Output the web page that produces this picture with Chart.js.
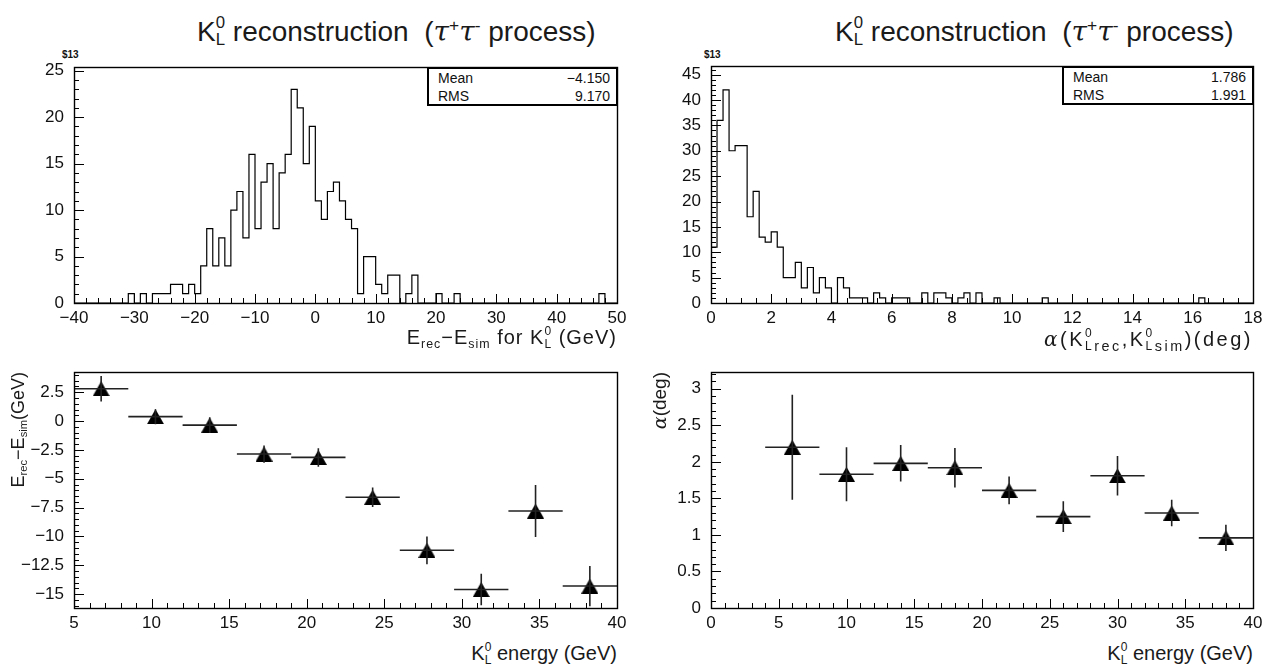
<!DOCTYPE html>
<html>
<head>
<meta charset="utf-8">
<title>KL0 reconstruction</title>
<script src="https://cdn.jsdelivr.net/npm/chart.js@4.4.1/dist/chart.umd.min.js"></script>
<style>
  html, body { margin: 0; padding: 0; background: #fff; }
  body { position: relative; width: 1273px; height: 667px; overflow: hidden;
         font-family: "Liberation Sans", "DejaVu Sans", sans-serif; color: #111; }
  canvas { position: absolute; }
  .title { position: absolute; top: 8px; font-size: 28px; line-height: 34px; white-space: nowrap; color: #1a1a1a; }
  .tag { position: absolute; top: 49px; font-size: 10px; font-weight: bold; }
  .stats { position: absolute; box-sizing: border-box; border: 2px solid #000; font-size: 14px;
           padding: 0 6px 0 9px; background: #fff; }
  .stats div { display: flex; justify-content: space-between; height: 18px; line-height: 18px; }
  .axt { position: absolute; font-size: 20px; line-height: 24px; white-space: nowrap; color: #1a1a1a; }
  .rot { position: absolute; transform-origin: 0 0; transform: rotate(-90deg); text-align: right;
         font-size: 18px; line-height: 22px; white-space: nowrap; color: #1a1a1a; }
  .ss { display: inline-block; vertical-align: -0.28em; font-size: 0.6em; line-height: 1.05; }
  .ss span { display: block; }
  .lo { font-size: 0.62em; vertical-align: -0.3em; }
  .hi { font-size: 0.62em; vertical-align: 0.55em; }
  i { font-family: "DejaVu Serif", serif; }
</style>
</head>
<body>

<div class="title" style="left:197px">K<span class="ss"><span>0</span><span>L</span></span> reconstruction &nbsp;(<i>τ</i><span class="hi">+</span><i>τ</i><span class="hi">-</span> process)</div>
<div class="title" style="left:835px">K<span class="ss"><span>0</span><span>L</span></span> reconstruction &nbsp;(<i>τ</i><span class="hi">+</span><i>τ</i><span class="hi">-</span> process)</div>
<div class="tag" style="left:62px">$13</div>
<div class="tag" style="left:704px">$13</div>

<canvas id="tl"></canvas>
<canvas id="tr"></canvas>
<canvas id="bl"></canvas>
<canvas id="br"></canvas>

<div class="stats" style="left:427px; top:67px; width:191px; height:39px">
  <div><span>Mean</span><span>−4.150</span></div>
  <div><span>RMS</span><span>9.170</span></div>
</div>
<div class="stats" style="left:1062px; top:66px; width:192px; height:39px">
  <div><span>Mean</span><span>1.786</span></div>
  <div><span>RMS</span><span>1.991</span></div>
</div>

<div class="axt" style="right:656px; top:325px; letter-spacing:1px">E<span class="lo">rec</span>−E<span class="lo">sim</span> for K<span class="ss"><span>0</span><span>L</span></span> (GeV)</div>
<div class="axt" style="right:20px; top:327px; letter-spacing:2.5px"><i>α</i>(K<span class="ss"><span>0</span><span>L</span></span><span class="lo" style="font-size:0.72em">rec</span>,K<span class="ss"><span>0</span><span>L</span></span><span class="lo" style="font-size:0.72em">sim</span>)(deg)</div>
<div class="axt" style="right:656px; top:641px">K<span class="ss"><span>0</span><span>L</span></span> energy (GeV)</div>
<div class="axt" style="right:20px; top:641px">K<span class="ss"><span>0</span><span>L</span></span> energy (GeV)</div>
<div class="rot" style="left:7px; top:502px; width:130px">E<span class="lo">rec</span>−E<span class="lo">sim</span>(GeV)</div>
<div class="rot" style="left:648px; top:482px; width:110px; font-size:19px"><i>α</i>(deg)</div>

<script>
// ---------- DATA ----------

// top left: E_rec - E_sim, 1 GeV bins from -40 to 50
const dEBinLow = -40;
const dEBinWidth = 1;
const dECounts = [
  0, 0, 0, 0, 0, 0, 0, 0, 0,
  1, 0, 1, 0, 1, 1, 1, 2, 2, 1, 2, 1,
  4, 8, 4, 7, 4, 10, 12, 7, 16, 8,
  13, 15, 8, 14, 16, 23, 21, 15, 19, 11,
  9, 12, 13, 11, 9, 8, 1, 5, 5, 2,
  1, 3, 3, 0, 1, 3, 0, 0, 0, 1,
  0, 0, 1, 0, 0, 0, 0, 0, 0, 0,
  0, 0, 0, 0, 0, 0, 0, 0, 0, 0,
  0, 0, 0, 0, 0, 0, 1, 0, 0
];

// top right: alpha(KL rec, KL sim), 0.2 deg bins from 0 to 18
const angBinLow = 0;
const angBinWidth = 0.2;
const angCounts = [
  11, 36, 42, 30, 31, 31, 17, 22, 13, 12,
  14, 11, 5, 5, 8, 3, 7, 2, 5, 3,
  0, 5, 3, 1, 1, 1, 0, 2, 1, 0,
  1, 1, 1, 0, 0, 2, 0, 2, 2, 1,
  0, 1, 2, 0, 2, 0, 0, 1, 0, 0,
  0, 0, 0, 0, 0, 1, 0, 0, 0, 0,
  0, 0, 0, 0, 0, 0, 0, 0, 0, 0,
  0, 0, 0, 0, 0, 0, 0, 0, 0, 0,
  0, 1, 0, 0, 0, 0, 0, 0, 0, 0
];

// bottom left: E_rec - E_sim vs KL energy
const energyL = [6.75, 10.25, 13.75, 17.25, 20.75, 24.25, 27.75, 31.25, 34.75, 38.25];
const energyHalfL = 1.75;
const dEMean = [2.8, 0.38, -0.35, -2.86, -3.15, -6.6, -11.2, -14.6, -7.8, -14.3];
const dEErr = [1.1, 0.65, 0.68, 0.75, 0.8, 0.84, 1.2, 1.37, 2.25, 1.75];

// bottom right: alpha vs KL energy
const energyR = [6, 10, 14, 18, 22, 26, 30, 34, 38];
const energyHalfR = 2;
const angMean = [2.2, 1.83, 1.98, 1.92, 1.61, 1.25, 1.81, 1.30, 0.96];
const angErr = [0.72, 0.37, 0.25, 0.27, 0.19, 0.21, 0.27, 0.18, 0.18];

// ---------- HELPERS ----------

// outline of a histogram: left edge of each bin, closed down to zero at both ends
function histPoints(lo, w, counts) {
  const pts = [{x: lo, y: 0}];
  counts.forEach((c, i) => pts.push({x: lo + i * w, y: c}));
  pts.push({x: lo + counts.length * w, y: 0});
  return pts;
}

function xErrPoints(xs, half, ys) {
  const pts = [];
  xs.forEach((x, i) => {
    pts.push({x: x - half, y: ys[i]}, {x: x + half, y: ys[i]}, {x: x + half, y: null});
  });
  return pts;
}

function yErrPoints(xs, ys, errs) {
  const pts = [];
  xs.forEach((x, i) => {
    pts.push({x: x, y: ys[i] - errs[i]}, {x: x, y: ys[i] + errs[i]}, {x: x, y: null});
  });
  return pts;
}

function triangleMarker(w, h) {
  const c = document.createElement('canvas');
  c.width = w; c.height = h;
  const g = c.getContext('2d');
  g.fillStyle = '#000';
  g.beginPath();
  g.moveTo(w / 2, 0);
  g.lineTo(w, h);
  g.lineTo(0, h);
  g.closePath();
  g.fill();
  return c;
}

// PAW style frame with inward major/minor ticks
const pawFrame = {
  id: 'pawFrame',
  afterDraw(chart, args, opts) {
    const {ctx, chartArea: a} = chart;
    const sx = chart.scales.x, sy = chart.scales.y;
    ctx.save();
    ctx.strokeStyle = '#000';
    ctx.lineWidth = 1;
    const ticks = (scale, step, len, horiz) => {
      const start = Math.ceil(scale.min / step - 1e-6);
      for (let i = start; i * step <= scale.max + 1e-9; i++) {
        const p = Math.round(scale.getPixelForValue(i * step)) + 0.5;
        ctx.beginPath();
        if (horiz) { ctx.moveTo(p, a.bottom); ctx.lineTo(p, a.bottom - len); }
        else { ctx.moveTo(a.left, p); ctx.lineTo(a.left + len, p); }
        ctx.stroke();
      }
    };
    ticks(sx, opts.xMinor, 5, true);
    ticks(sx, opts.xMajor, 9, true);
    ticks(sy, opts.yMinor, 5, false);
    ticks(sy, opts.yMajor, 10, false);
    ctx.lineWidth = 1.4;
    ctx.strokeRect(Math.round(a.left) + 0.5, Math.round(a.top) + 0.5,
                   Math.round(a.right - a.left), Math.round(a.bottom - a.top));
    ctx.restore();
  }
};

const tickFont = { family: 'Liberation Sans', size: 17 };
const fmt = v => String(v).replace('-', '\u2212');

function panel(id, box, area, xs, ys, datasets, frame) {
  const cv = document.getElementById(id);
  cv.width = box.w; cv.height = box.h;
  cv.style.left = box.x + 'px';
  cv.style.top = box.y + 'px';
  return new Chart(cv, {
    type: 'scatter',
    data: { datasets: datasets },
    options: {
      responsive: false,
      animation: false,
      devicePixelRatio: 1,
      events: [],
      layout: { padding: { left: 0, bottom: 0, top: area.top - box.y, right: box.x + box.w - area.right } },
      plugins: { legend: { display: false }, tooltip: { enabled: false }, pawFrame: frame },
      scales: {
        x: {
          type: 'linear', min: xs.min, max: xs.max,
          grid: { display: false, drawTicks: false }, border: { display: false },
          ticks: { stepSize: xs.step, autoSkip: false, maxRotation: 0, includeBounds: false,
                   padding: 5, font: tickFont, color: '#111', callback: fmt },
          afterFit: s => { s.height = box.y + box.h - area.bottom; s.paddingLeft = 0; s.paddingRight = 0; }
        },
        y: {
          type: 'linear', min: ys.min, max: ys.max,
          grid: { display: false, drawTicks: false }, border: { display: false },
          ticks: { stepSize: ys.step, autoSkip: false, includeBounds: false,
                   padding: 10, font: tickFont, color: '#111', callback: fmt },
          afterFit: s => { s.width = area.left - box.x; s.paddingTop = 0; s.paddingBottom = 0; }
        }
      }
    },
    plugins: [pawFrame]
  });
}

function histSet(lo, w, counts) {
  return {
    type: 'line',
    data: histPoints(lo, w, counts),
    stepped: true,
    borderColor: '#000',
    borderWidth: 1.2,
    pointRadius: 0,
    fill: false
  };
}

function errSets(xs, half, ys, errs) {
  const marker = triangleMarker(17, 15);
  return [
    { type: 'line', data: xErrPoints(xs, half, ys), borderColor: '#222', borderWidth: 1.6, pointRadius: 0, fill: false },
    { type: 'line', data: yErrPoints(xs, ys, errs), borderColor: '#222', borderWidth: 1.6, pointRadius: 0, fill: false },
    { type: 'scatter', data: xs.map((x, i) => ({x: x, y: ys[i]})), pointStyle: marker, pointRadius: 8 }
  ];
}

// ---------- CHARTS ----------

// E_rec - E_sim histogram
panel('tl', {x: 0, y: 55, w: 636, h: 280}, {left: 74, top: 67, right: 617, bottom: 303},
  {min: -40, max: 50, step: 10}, {min: 0, max: 25.4, step: 5},
  [histSet(dEBinLow, dEBinWidth, dECounts)],
  {xMajor: 10, xMinor: 2, yMajor: 5, yMinor: 1});

// alpha histogram
panel('tr', {x: 636, y: 55, w: 637, h: 280}, {left: 711, top: 66, right: 1253, bottom: 303},
  {min: 0, max: 18, step: 2}, {min: 0, max: 46.7, step: 5},
  [histSet(angBinLow, angBinWidth, angCounts)],
  {xMajor: 2, xMinor: 0.5, yMajor: 5, yMinor: 1});

// E_rec - E_sim vs energy
panel('bl', {x: 0, y: 360, w: 636, h: 280}, {left: 74, top: 372, right: 617, bottom: 608},
  {min: 5, max: 40, step: 5}, {min: -16.2, max: 4.25, step: 2.5},
  errSets(energyL, energyHalfL, dEMean, dEErr),
  {xMajor: 5, xMinor: 1, yMajor: 2.5, yMinor: 0.5});

// alpha vs energy
panel('br', {x: 636, y: 360, w: 637, h: 280}, {left: 711, top: 372, right: 1253, bottom: 608},
  {min: 0, max: 40, step: 5}, {min: 0, max: 3.23, step: 0.5},
  errSets(energyR, energyHalfR, angMean, angErr),
  {xMajor: 5, xMinor: 1, yMajor: 0.5, yMinor: 0.1});
</script>
</body>
</html>
